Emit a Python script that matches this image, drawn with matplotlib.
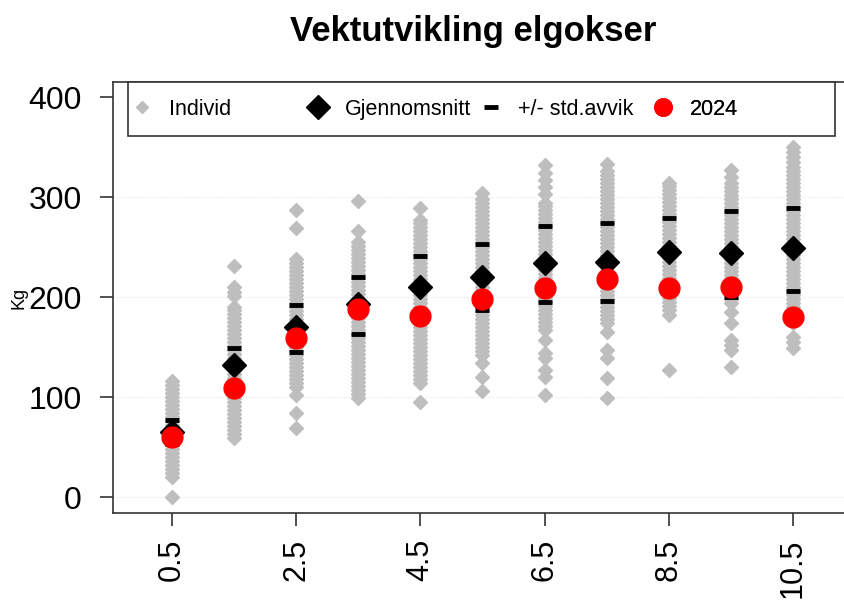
import numpy as np
import matplotlib
matplotlib.use('Agg')
import matplotlib.pyplot as plt
from matplotlib.lines import Line2D
from matplotlib.patches import Rectangle

plt.rcParams['font.family'] = ['Liberation Sans', 'DejaVu Sans']

# ── Data ──────────────────────────────────────────────────────────────────
alder = [0.5, 1.5, 2.5, 3.5, 4.5, 5.5, 6.5, 7.5, 8.5, 9.5, 10.5]

# individual weights (kg) per age class
individ_05 = [0, 20, 24, 28, 32, 36, 40, 44, 48, 52, 56, 60, 64, 68, 72, 76, 80,
              84, 88, 92, 96, 100, 104, 108, 112, 116]
individ_15 = [59, 63, 67, 71, 75, 79, 83, 87, 91, 95, 99, 103, 107, 111, 115, 119,
              123, 127, 131, 135, 139, 143, 147, 151, 155, 159, 163, 167, 171, 175,
              179, 183, 187, 190, 201, 205, 210, 231]
individ_25 = [69, 84, 102, 110, 114, 118, 122, 126, 130, 134, 138, 142, 146, 150,
              154, 158, 162, 166, 170, 174, 178, 182, 186, 190, 194, 198, 202, 206,
              210, 214, 218, 222, 226, 230, 234, 238, 269, 287]
individ_35 = [99, 103, 107, 111, 115, 119, 123, 127, 131, 135, 139, 143, 147, 151,
              155, 159, 163, 167, 171, 175, 179, 183, 187, 191, 195, 199, 203, 207,
              211, 215, 219, 223, 227, 231, 235, 239, 243, 247, 251, 255, 266, 296]
individ_45 = [95, 114, 118, 122, 126, 130, 134, 138, 142, 146, 150, 154, 158, 162,
              166, 170, 174, 178, 182, 186, 190, 194, 198, 202, 206, 210, 214, 218,
              222, 226, 230, 234, 238, 242, 246, 250, 254, 258, 262, 266, 270, 274,
              277, 289]
individ_55 = [106, 120, 134, 142, 146, 150, 154, 158, 162, 166, 170, 174, 178, 182,
              186, 190, 194, 198, 202, 206, 210, 214, 218, 222, 226, 230, 234, 238,
              242, 246, 250, 254, 258, 262, 266, 270, 274, 278, 282, 286, 290, 294,
              298, 304]
individ_65 = [102, 120, 127, 139, 144, 157, 167, 171, 175, 179, 183, 187, 191, 195,
              199, 203, 207, 211, 215, 219, 223, 227, 231, 235, 239, 243, 247, 251,
              255, 259, 263, 267, 271, 275, 279, 283, 287, 291, 294, 303, 310, 317,
              324, 332]
individ_75 = [99, 119, 139, 147, 165, 174, 178, 182, 186, 190, 194, 198, 202, 206,
              210, 214, 218, 222, 226, 230, 234, 238, 242, 246, 250, 254, 258, 262,
              266, 270, 274, 278, 282, 286, 290, 294, 298, 302, 306, 310, 314, 318,
              322, 326, 333]
individ_85 = [127, 182, 187, 191, 195, 199, 203, 207, 211, 215, 219, 223, 227, 231,
              235, 239, 243, 247, 251, 255, 259, 263, 267, 271, 275, 279, 283, 287,
              291, 295, 299, 303, 307, 311, 314]
individ_95 = [130, 147, 152, 157, 174, 185, 194, 198, 202, 206, 210, 214, 218, 222,
              226, 230, 234, 238, 242, 246, 250, 254, 258, 262, 266, 270, 274, 278,
              282, 286, 290, 294, 298, 302, 306, 310, 314, 320, 327]
individ_105 = [149, 155, 160, 174, 178, 182, 186, 190, 194, 198, 202, 206, 210, 214,
               218, 222, 226, 230, 234, 238, 242, 246, 250, 254, 258, 262, 266, 270,
               274, 278, 282, 286, 290, 294, 298, 302, 306, 310, 314, 318, 322, 326,
               330, 335, 340, 345, 350]

individer = [individ_05, individ_15, individ_25, individ_35, individ_45, individ_55,
             individ_65, individ_75, individ_85, individ_95, individ_105]

gjennomsnitt = [65, 132, 170, 193, 210, 220, 234, 235, 245, 244, 249]
std_over     = [77, 149, 192, 220, 241, 253, 271, 274, 279, 286, 289]
std_under    = [53, 115, 145, 163, 179, 187, 195, 196, 211, 200, 206]
aar_2024     = [60, 109, 159, 188, 181, 198, 209, 218, 209, 210, 180]

xticks = [0.5, 2.5, 4.5, 6.5, 8.5, 10.5]
yticks = [0, 100, 200, 300, 400]

GREY = '#BEBEBE'
RED = '#FF0000'

# ── Figure ────────────────────────────────────────────────────────────────
fig = plt.figure(figsize=(8.45, 6.01), dpi=100)
ax = fig.add_axes([0.1337, 0.1464, 0.876, 0.717])

for y in yticks[:-1]:
    ax.axhline(y, color='#e6e6e6', lw=0.8, ls=':', zorder=0)

for a, vals in zip(alder, individer):
    ax.plot([a] * len(vals), vals, ls='none', marker='D', ms=7.5,
            color=GREY, mec=GREY, zorder=2)

ax.plot(alder, std_over, ls='none', marker='_', ms=10, mew=3.5, color='black', zorder=3)
ax.plot(alder, std_under, ls='none', marker='_', ms=10, mew=3.5, color='black', zorder=3)
ax.plot(alder, gjennomsnitt, ls='none', marker='D', ms=12.5, color='black', zorder=4)
ax.plot(alder, aar_2024, ls='none', marker='o', ms=15, color=RED, mec=RED, zorder=5)

ax.set_xlim(-0.45, 11.47)
ax.set_ylim(-16, 415)
ax.set_xticks(xticks)
ax.set_xticklabels([str(x) for x in xticks], rotation=90, fontsize=22)
ax.set_yticks(yticks)
ax.set_yticklabels([str(y) for y in yticks], fontsize=23)
ax.tick_params(axis='both', length=9.5, width=1.2, color='#333333')
ax.tick_params(axis='y', pad=13)
ax.tick_params(axis='x', pad=9)
for s in ax.spines.values():
    s.set_color('#333333')
    s.set_linewidth(1.2)

ax.set_ylabel('Kg', fontsize=13)
ax.yaxis.set_label_coords(-0.115, 0.5)

fig.text(0.56, 0.948, 'Vektutvikling elgokser', ha='center', va='center',
         fontsize=25, fontweight='bold')

# ── Legend: one frame, four equally spaced entries (R horiz style) ────────
ax.add_patch(Rectangle((0.020, 0.875), 0.955, 0.125, transform=ax.transAxes,
                       facecolor='white', edgecolor='#333333', lw=1.2,
                       zorder=6, clip_on=False))
entries = [
    (Line2D([], [], ls='none', marker='D', ms=6, color=GREY), 'Individ'),
    (Line2D([], [], ls='none', marker='D', ms=12.5, color='black'), 'Gjennomsnitt'),
    (Line2D([], [], ls='none', marker='_', ms=10, mew=3.5, color='black'), '+/- std.avvik'),
    (Line2D([], [], ls='none', marker='o', ms=12.5, color=RED), '2024'),
]
leg_x = [0.025, 0.263, 0.496, 0.729]
for (h, lab), x in zip(entries, leg_x):
    leg = ax.legend([h], [lab], loc='center left', bbox_to_anchor=(x, 0.9375),
                    frameon=False, fontsize=15.5, borderpad=0, borderaxespad=0,
                    handlelength=1.0, handletextpad=0.75)
    leg.set_zorder(7)
    ax.add_artist(leg)

plt.savefig('out.png', dpi=100)
plt.close()
